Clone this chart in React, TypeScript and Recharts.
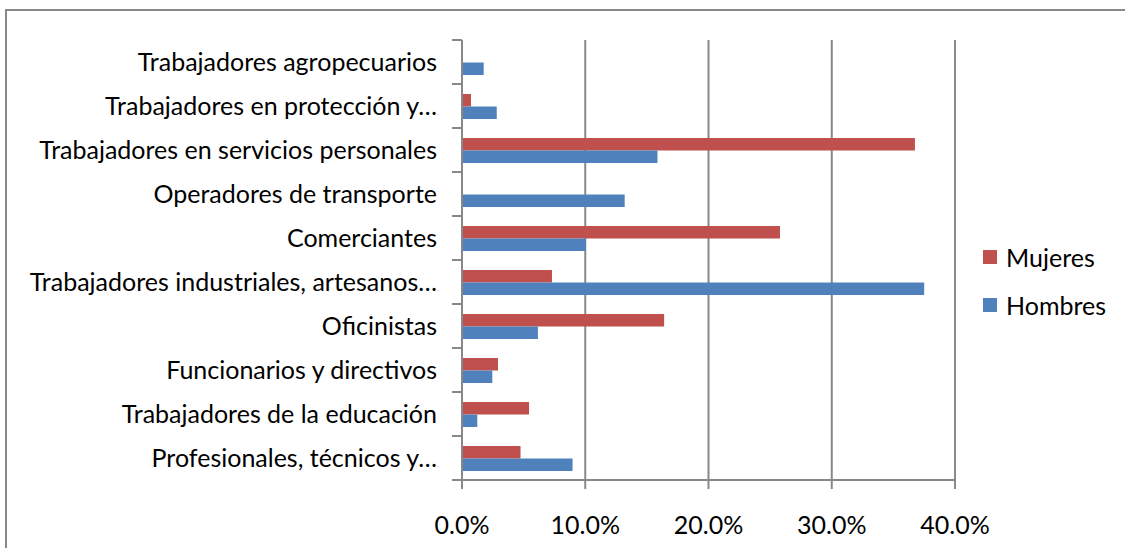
import React from "react";
import {
  BarChart,
  Bar,
  XAxis,
  YAxis,
  CartesianGrid,
} from "recharts";

// Categorías de arriba hacia abajo
const categorias = [
  "Trabajadores agropecuarios",
  "Trabajadores en protección y…",
  "Trabajadores en servicios personales",
  "Operadores de transporte",
  "Comerciantes",
  "Trabajadores industriales, artesanos…",
  "Oficinistas",
  "Funcionarios y directivos",
  "Trabajadores de la educación",
  "Profesionales, técnicos y…",
];

// Porcentajes
const mujeres = [0, 0.73, 36.75, 0, 25.8, 7.3, 16.4, 2.92, 5.44, 4.75];
const hombres = [1.76, 2.82, 15.86, 13.2, 10.06, 37.5, 6.16, 2.46, 1.24, 8.97];

const xTicks = [0, 10, 20, 30, 40];

const COLOR_MUJERES = "#C0504D";
const COLOR_HOMBRES = "#4F81BD";
const GRIS = "#888888";
const FUENTE = "Lato, 'Open Sans', sans-serif";
const TAM = 25;

const data = categorias.map((c, i) => ({
  categoria: c,
  Mujeres: mujeres[i],
  Hombres: hombres[i],
}));

const tickStyle = { fontSize: TAM, fill: "#000", fontFamily: FUENTE };

// etiqueta de categoría + marca en el borde superior de la banda (y la inferior en la última)
function CatTick(props: any) {
  const { x, y, payload, index } = props;
  const half = payload.offset || 22;
  const axisX = x + 25;
  const ultimo = index === categorias.length - 1;
  return (
    <g>
      <line x1={axisX - 10} x2={axisX} y1={y - half} y2={y - half} stroke={GRIS} strokeWidth={2} />
      {ultimo && (
        <line x1={axisX - 10} x2={axisX} y1={y + half} y2={y + half} stroke={GRIS} strokeWidth={2} />
      )}
      <text x={x} y={y} dy="0.355em" textAnchor="end" {...tickStyle}>
        {payload.value}
      </text>
    </g>
  );
}

function Leyenda() {
  const items = [
    { name: "Mujeres", color: COLOR_MUJERES },
    { name: "Hombres", color: COLOR_HOMBRES },
  ];
  return (
    <div style={{ position: "absolute", left: 983, top: 233, fontFamily: FUENTE, fontSize: TAM }}>
      {items.map((it) => (
        <div key={it.name} style={{ display: "flex", alignItems: "center", height: 48 }}>
          <span style={{ width: 14, height: 14, background: it.color, marginRight: 9 }} />
          <span style={{ color: "#000" }}>{it.name}</span>
        </div>
      ))}
    </div>
  );
}

export default function App() {
  return (
    <div style={{ position: "absolute", left: 0, top: 0, width: 1125, height: 548, overflow: "hidden", background: "#fff" }}>
      {/* marco del gráfico, se sale por la derecha y por abajo */}
      <div
        style={{
          position: "absolute",
          left: 5,
          top: 9,
          width: 1200,
          height: 600,
          border: `2px solid ${GRIS}`,
        }}
      />
      <div style={{ position: "absolute", left: 0, top: 0 }}>
        <BarChart
          width={1125}
          height={548}
          data={data}
          layout="vertical"
          margin={{ top: 40, right: 170, bottom: 0, left: 0 }}
          barSize={12.5}
          barGap={0}
        >
          <CartesianGrid horizontal={false} stroke={GRIS} strokeWidth={2} />
          <XAxis
            type="number"
            domain={[0, 40]}
            ticks={xTicks}
            tickFormatter={(v) => `${Number(v).toFixed(1)}%`}
            height={68}
            tickSize={9}
            tickMargin={27}
            tick={tickStyle}
            axisLine={{ stroke: GRIS, strokeWidth: 2 }}
            tickLine={{ stroke: GRIS, strokeWidth: 2 }}
          />
          <YAxis
            type="category"
            dataKey="categoria"
            width={462}
            tickSize={0}
            tickMargin={25}
            tick={<CatTick />}
            interval={0}
            axisLine={{ stroke: GRIS, strokeWidth: 2 }}
            tickLine={false}
          />
          <Bar dataKey="Mujeres" fill={COLOR_MUJERES} isAnimationActive={false} />
          <Bar dataKey="Hombres" fill={COLOR_HOMBRES} isAnimationActive={false} />
        </BarChart>
      </div>
      <Leyenda />
    </div>
  );
}
